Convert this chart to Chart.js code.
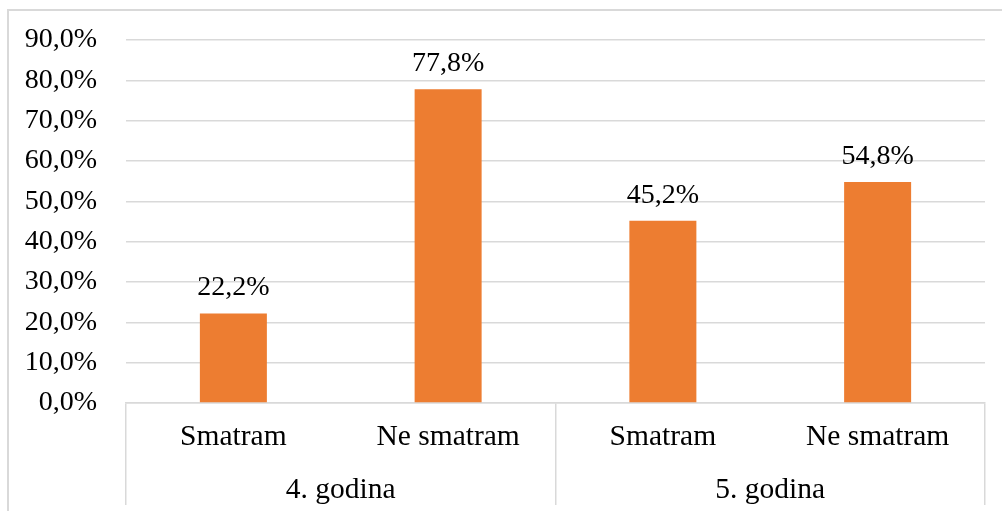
<!DOCTYPE html>
<html>
<head>
<meta charset="utf-8">
<script src="https://cdn.jsdelivr.net/npm/chart.js@4"></script>
<style>
  body { margin: 0; background: #fff; overflow: hidden; }
  #okvir { position: absolute; left: 7px; top: 9px; width: 1200px; height: 600px;
           border-left: 2px solid #d9d9d9; border-top: 2px solid #d9d9d9; }
  #graf { position: absolute; left: 0; top: 0; }
</style>
</head>
<body>
<div id="okvir"></div>
<canvas id="graf" width="1002" height="511"></canvas>
<script>
"use strict"

// podaci iz grafa
const odgovori = ["Smatram", "Ne smatram", "Smatram", "Ne smatram"];
const godine = ["4. godina", "5. godina"];
const postoci = [22.2, 77.8, 45.2, 54.8];
const yMax = 90;
const yKorak = 10;

const siva = '#d9d9d9';
const narancasta = '#ed7d31';
const obitelj = '"Liberation Serif", "Times New Roman", serif';
const font = { family: obitelj, size: 28, lineHeight: 1 };
const fontX = { family: obitelj, size: 29.5, lineHeight: 1 };

// 22.2 -> "22,2%"
function formatiraj(v) {
  return v.toFixed(1).replace('.', ',') + '%';
}

// natpisi iznad stupaca
const natpisi = {
  id: 'natpisi',
  afterDatasetsDraw(chart) {
    const ctx = chart.ctx;
    const meta = chart.getDatasetMeta(0);
    ctx.save();
    ctx.font = '28px ' + obitelj;
    ctx.fillStyle = '#000';
    ctx.textAlign = 'center';
    ctx.textBaseline = 'alphabetic';
    meta.data.forEach((bar, i) => {
      ctx.fillText(formatiraj(postoci[i]), bar.x, bar.y - 18);
    });
    ctx.restore();
  }
};

new Chart(document.getElementById('graf'), {
  type: 'bar',
  data: {
    labels: odgovori,
    datasets: [{
      data: postoci,
      backgroundColor: narancasta,
      borderWidth: 0,
      categoryPercentage: 1,
      barPercentage: 0.312
    }]
  },
  options: {
    responsive: false,
    animation: false,
    events: [],
    layout: { padding: { top: 40, right: 17, bottom: 3, left: 0 } },
    plugins: {
      legend: { display: false },
      tooltip: { enabled: false }
    },
    scales: {
      y: {
        min: 0,
        max: yMax,
        ticks: {
          stepSize: yKorak,
          padding: 29,
          color: '#000',
          font: font,
          callback: v => formatiraj(v)
        },
        grid: { color: siva, lineWidth: 1.5, drawTicks: false },
        border: { display: false },
        // sirina osi fiksna, bez dodatnog razmaka gore/dolje
        afterFit: s => { s.width = 126; s.paddingTop = 0; s.paddingBottom = 0; }
      },
      x: {
        offset: true,
        ticks: { color: '#000', font: fontX, padding: -35.5, autoSkip: false, maxRotation: 0 },
        grid: {
          offset: true,
          drawOnChartArea: false,
          tickLength: 55,
          lineWidth: 1.5,
          // crte samo na granicama godina
          color: c => (c.index === undefined || c.index % 2 === 0) ? siva : 'rgba(0,0,0,0)'
        },
        border: { color: siva, width: 1.5 },
        afterFit: s => { s.height = 55; }
      },
      x2: {
        type: 'category',
        axis: 'x',
        position: 'bottom',
        weight: 1,
        labels: godine,
        offset: true,
        ticks: { color: '#000', font: fontX, padding: -29.5, autoSkip: false, maxRotation: 0 },
        grid: { offset: true, drawOnChartArea: false, tickLength: 47, lineWidth: 1.5, color: siva },
        border: { display: false },
        afterFit: s => { s.height = 50; }
      }
    }
  },
  plugins: [natpisi]
});
</script>
</body>
</html>
